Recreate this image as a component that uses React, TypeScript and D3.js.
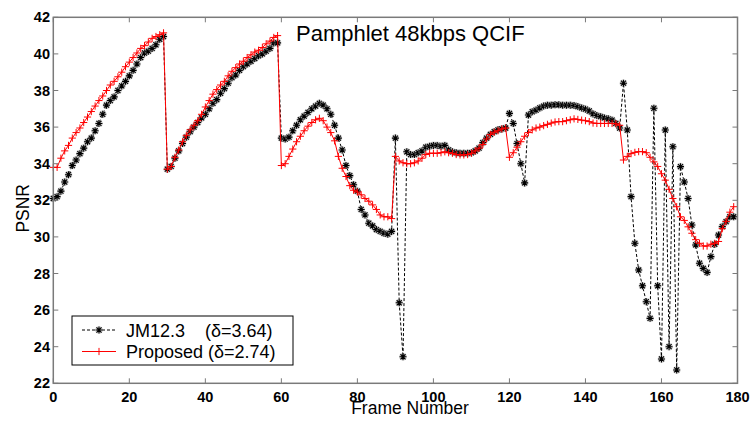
import React from "react";
import * as d3 from "d3";

const W = 755;
const H = 421;

const xTicks = [0, 20, 40, 60, 80, 100, 120, 140, 160, 180];
const yTicks = [22, 24, 26, 28, 30, 32, 34, 36, 38, 40, 42];

const titleText = "Pamphlet 48kbps QCIF";
const xLabel = "Frame Number";
const yLabel = "PSNR";
const jmLabel = "JM12.3    (\u03b4=3.64)";
const propLabel = "Proposed (\u03b4=2.74)";

const jmValues = [
  32.1, 32.2, 32.5, 33.0, 33.4, 33.9, 34.2, 34.55, 34.85, 35.2, 35.4, 35.8, 36.2, 36.7, 37.2, 37.45, 37.65, 38.0, 38.25, 38.5, 38.8, 39.1, 39.45, 39.8, 40.05, 40.15, 40.3, 40.5, 40.8, 40.95,
  33.7, 33.85, 34.3, 34.7, 35.1, 35.45, 35.75, 36.0, 36.25, 36.5, 36.7, 37.0, 37.3, 37.5, 37.85, 38.1, 38.4, 38.7, 38.85, 39.1, 39.3, 39.45, 39.6, 39.75, 39.9, 40.0, 40.15, 40.3, 40.6, 40.6,
  35.4, 35.35, 35.45, 35.8, 36.1, 36.4, 36.6, 36.8, 37.0, 37.15, 37.3, 37.2, 37.0, 36.7, 36.1, 35.4, 34.75, 33.9, 33.35, 32.85, 32.5, 31.5, 31.2, 30.75, 30.6, 30.4, 30.3, 30.2, 30.15, 30.3,
  35.4, 26.4, 23.45, 34.65, 34.5, 34.5, 34.6, 34.7, 34.9, 34.95, 35.0, 35.0, 34.95, 35.0, 34.75, 34.65, 34.6, 34.57, 34.57, 34.57, 34.6, 34.7, 34.85, 35.15, 35.4, 35.6, 35.75, 35.85, 35.9, 35.95,
  36.75, 36.2, 35.1, 34.0, 32.95, 36.66, 36.84, 36.93, 37.05, 37.15, 37.2, 37.2, 37.22, 37.22, 37.2, 37.2, 37.2, 37.18, 37.12, 37.05, 36.98, 36.88, 36.72, 36.63, 36.57, 36.5, 36.45, 36.38, 36.2, 35.95,
  38.4, 35.84, 32.2, 29.65, 28.19, 27.33, 26.46, 25.55, 37.03, 27.33, 23.33, 35.84, 24.0, 34.93, 22.73, 33.84, 33.0, 32.1, 30.65, 29.56, 28.56, 28.28, 28.06, 28.92, 29.6, 30.1, 30.56, 30.83, 31.1, 31.1,
];

const propValues = [
  33.8, 33.8, 34.3, 34.7, 35.0, 35.4, 35.7, 35.95, 36.25, 36.55, 36.85, 37.15, 37.45, 37.7, 38.0, 38.3, 38.5, 38.75, 39.0, 39.3, 39.55, 39.8, 40.05, 40.3, 40.45, 40.65, 40.85, 40.95, 41.05, 41.15,
  33.7, 33.85, 34.35, 34.75, 35.2, 35.55, 35.85, 36.1, 36.35, 36.7, 37.1, 37.45, 37.8, 38.05, 38.3, 38.5, 38.8, 39.05, 39.25, 39.45, 39.6, 39.8, 39.95, 40.1, 40.2, 40.35, 40.55, 40.7, 40.9, 41.0,
  33.9, 34.0, 34.4, 34.8, 35.2, 35.5, 35.8, 36.05, 36.25, 36.4, 36.48, 36.35, 36.0, 35.7, 35.25, 34.4, 33.75, 33.3, 32.8, 32.55, 32.45, 32.3, 32.1, 31.95, 31.75, 31.5, 31.2, 31.1, 31.1, 31.0,
  34.4, 34.15, 34.05, 34.0, 34.0, 34.05, 34.15, 34.3, 34.5, 34.57, 34.57, 34.57, 34.6, 34.65, 34.6, 34.57, 34.5, 34.48, 34.48, 34.5, 34.57, 34.7, 34.85, 35.05, 35.35, 35.6, 35.72, 35.8, 35.9, 35.95,
  34.35, 34.6, 34.9, 35.2, 35.5, 35.7, 35.85, 35.95, 36.0, 36.08, 36.15, 36.22, 36.28, 36.3, 36.3, 36.35, 36.4, 36.45, 36.42, 36.38, 36.35, 36.3, 36.22, 36.2, 36.2, 36.2, 36.2, 36.2, 36.18, 36.1,
  34.2, 34.4, 34.55, 34.62, 34.66, 34.66, 34.6, 34.35, 34.1, 33.85, 33.45, 33.1, 32.6, 32.1, 31.65, 31.1, 30.9, 30.55, 30.2, 29.85, 29.65, 29.5, 29.5, 29.6, 29.65, 29.75, 30.45, 30.85, 31.35, 31.65,
];

const FONT = "'Liberation Sans', Arial, Helvetica, sans-serif";

const Asterisk = ({ cx, cy, s = 3.5 }: { cx: number; cy: number; s?: number }) => {
  const d = s * 0.72;
  return (
    <g>
      <circle cx={cx} cy={cy} r={3.8} fill="#a8a8a8" opacity={0.55} />
      <path
        d={`M${cx - s},${cy}H${cx + s}M${cx},${cy - s}V${cy + s}M${cx - d},${cy - d}L${cx + d},${cy + d}M${cx - d},${cy + d}L${cx + d},${cy - d}`}
        stroke="#000"
        strokeWidth={1.1}
        fill="none"
      />
    </g>
  );
};

const Plus = ({ cx, cy, s = 3.6 }: { cx: number; cy: number; s?: number }) => (
  <path
    d={`M${cx - s},${cy}H${cx + s}M${cx},${cy - s}V${cy + s}`}
    stroke="#ff0000"
    strokeWidth={1}
    fill="none"
  />
);

export default function App() {
  const left = 53.3;
  const right = 737.5;
  const top = 17.3;
  const bottom = 383.3;
  const x = d3.scaleLinear().domain([0, 180]).range([left, right]);
  const y = d3.scaleLinear().domain([22, 42]).range([bottom, top]);

  const line = d3
    .line<number>()
    .x((_, i) => x(i))
    .y((v) => y(v));

  const tickLen = 5;
  const axisColor = "#7a7a7a";

  return (
    <svg
      width={W}
      height={H}
      style={{ position: "absolute", left: 0, top: 0, background: "#fff" }}
      fontFamily={FONT}
    >
      <rect x={0} y={0} width={W} height={H} fill="#fff" />
      {/* series */}
      <path d={line(jmValues) || ""} fill="none" stroke="#000" strokeWidth={1} strokeDasharray="3,2" />
      {jmValues.map((v, i) => (
        <Asterisk key={"j" + i} cx={x(i)} cy={y(v)} />
      ))}
      <path d={line(propValues) || ""} fill="none" stroke="#ff0000" strokeWidth={1} />
      {propValues.map((v, i) => (
        <Plus key={"p" + i} cx={x(i)} cy={y(v)} />
      ))}

      {/* frame */}
      <rect x={left} y={top} width={right - left} height={bottom - top} fill="none" stroke={axisColor} strokeWidth={1.5} />
      {xTicks.map((t) => (
        <g key={"xt" + t}>
          <line x1={x(t)} x2={x(t)} y1={bottom} y2={bottom - tickLen} stroke={axisColor} />
          <line x1={x(t)} x2={x(t)} y1={top} y2={top + tickLen} stroke={axisColor} />
          <text x={x(t)} y={402} textAnchor="middle" fontSize={14.5} fontWeight="bold" fill="#000">
            {t}
          </text>
        </g>
      ))}
      {yTicks.map((t) => (
        <g key={"yt" + t}>
          <line x1={left} x2={left + tickLen} y1={y(t)} y2={y(t)} stroke={axisColor} />
          <line x1={right} x2={right - tickLen} y1={y(t)} y2={y(t)} stroke={axisColor} />
          <text x={50} y={y(t) + 5} textAnchor="end" fontSize={14.5} fontWeight="bold" fill="#000">
            {t}
          </text>
        </g>
      ))}

      {/* labels */}
      <text x={296} y={40.5} fontSize={22} fill="#000">
        {titleText}
      </text>
      <text x={410} y={414} textAnchor="middle" fontSize={17.5} fill="#000">
        {xLabel}
      </text>
      <text
        transform={`translate(29,${(top + bottom) / 2 + 8}) rotate(-90)`}
        textAnchor="middle"
        fontSize={17.5}
        fill="#000"
      >
        {yLabel}
      </text>

      {/* legend */}
      <rect x={72} y={316} width={221} height={49} fill="#fff" stroke="#000" strokeWidth={1} />
      <line x1={82} x2={116} y1={330} y2={330} stroke="#000" strokeDasharray="3,2" />
      <Asterisk cx={99} cy={330} />
      <text x={126} y={336.5} fontSize={18} fill="#000" style={{ whiteSpace: "pre" }}>
        {jmLabel}
      </text>
      <line x1={82} x2={116} y1={351.5} y2={351.5} stroke="#ff0000" />
      <Plus cx={99} cy={351.5} />
      <text x={126} y={358} fontSize={18} fill="#000" style={{ whiteSpace: "pre" }}>
        {propLabel}
      </text>
    </svg>
  );
}
